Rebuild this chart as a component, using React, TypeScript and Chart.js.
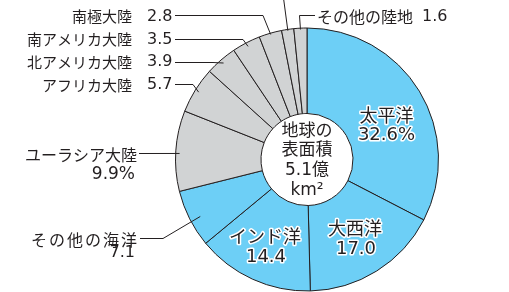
import React, { useEffect, useRef } from 'react';
import { Chart, registerables } from 'chart.js';

Chart.register(...registerables);

// ---- data ----
const categories = [
  '太平洋',
  '大西洋',
  'インド洋',
  'その他の海洋',
  'ユーラシア大陸',
  'アフリカ大陸',
  '北アメリカ大陸',
  '南アメリカ大陸',
  '南極大陸',
  'オーストラリア大陸',
  'その他の陸地',
];
const values = [32.6, 17.0, 14.4, 7.1, 9.9, 5.7, 3.9, 3.5, 2.8, 1.5, 1.6];
const isOcean = [true, true, true, true, false, false, false, false, false, false, false];
const showPercent = [true, false, false, false, true, false, false, false, false, false, false];
const centerLines = ['地球の', '表面積', '5.1億', 'km²'];

// ---- style ----
const OCEAN = '#6dcff6';
const LAND = '#d1d3d4';
const INK = '#231f20';
const JP = "'Noto Sans CJK JP', sans-serif";
const NUM = "'DejaVu Sans', 'Noto Sans CJK JP', sans-serif";

type Pt = [number, number];
type Inside = { kind: 'in'; x: number; y: number; vx: number; vy: number };
type Outside = {
  kind: 'out';
  nx: number; ny: number; nAlign: CanvasTextAlign; nSize: number; nSpacing?: number;
  vx: number; vy: number; vAlign: CanvasTextAlign; vSize: number;
  path: Pt[]; frac: number; rf: number;
};

const layouts: (Inside | Outside)[] = [
  { kind: 'in', x: 386.5, y: 115, vx: 386.5, vy: 135.5 },
  { kind: 'in', x: 355, y: 228.5, vx: 356, vy: 249.5 },
  { kind: 'in', x: 265, y: 236.5, vx: 266, vy: 257.5 },
  { kind: 'out', nx: 139, ny: 239.5, nAlign: 'right', nSize: 16, nSpacing: 2, vx: 135, vy: 253, vAlign: 'right', vSize: 16, path: [[140, 238.5], [163, 238.5]], frac: 0.45, rf: 0.92 },
  { kind: 'out', nx: 137, ny: 155, nAlign: 'right', nSize: 16, vx: 135, vy: 175, vAlign: 'right', vSize: 17, path: [[139, 153.5]], frac: 0.47, rf: 0.97 },
  { kind: 'out', nx: 132, ny: 85, nAlign: 'right', nSize: 15, vx: 147, vy: 85, vAlign: 'left', vSize: 16, path: [[175, 84.5], [193, 84.5]], frac: 0.5, rf: 0.97 },
  { kind: 'out', nx: 132, ny: 62, nAlign: 'right', nSize: 15, vx: 147, vy: 62, vAlign: 'left', vSize: 16, path: [[175, 62.5], [213, 62.5]], frac: 0.5, rf: 0.97 },
  { kind: 'out', nx: 132, ny: 39.5, nAlign: 'right', nSize: 15, vx: 147, vy: 39.5, vAlign: 'left', vSize: 16, path: [[175, 39.5], [243, 39.5]], frac: 0.5, rf: 0.97 },
  { kind: 'out', nx: 132, ny: 16.5, nAlign: 'right', nSize: 15, vx: 147, vy: 16.5, vAlign: 'left', vSize: 16, path: [[175, 15.5], [263, 15.5]], frac: 0.5, rf: 0.99 },
  { kind: 'out', nx: 318, ny: -10, nAlign: 'left', nSize: 16, vx: 470, vy: -10, vAlign: 'left', vSize: 16, path: [[283.5, -2]], frac: 0.5, rf: 0.99 },
  { kind: 'out', nx: 317, ny: 16.5, nAlign: 'left', nSize: 16, vx: 422, vy: 16.5, vAlign: 'left', vSize: 16, path: [[315, 15.5], [299.5, 15.5]], frac: 0.5, rf: 0.99 },
];

function valueText(i: number) {
  return values[i].toFixed(1) + (showPercent[i] ? '%' : '');
}

const labelPlugin = {
  id: 'surfaceLabels',
  afterDatasetsDraw(chart: any) {
    const ctx: CanvasRenderingContext2D = chart.ctx;
    const meta = chart.getDatasetMeta(0);
    ctx.save();
    ctx.textBaseline = 'middle';
    ctx.lineJoin = 'round';

    layouts.forEach((L, i) => {
      if (L.kind === 'in') {
        ctx.textAlign = 'center';
        ctx.font = `18px ${JP}`;
        ctx.strokeStyle = '#ffffff';
        ctx.lineWidth = 3;
        ctx.strokeText(categories[i], L.x, L.y);
        ctx.fillStyle = INK;
        ctx.fillText(categories[i], L.x, L.y);
        ctx.font = `18px ${NUM}`;
        ctx.strokeText(valueText(i), L.vx, L.vy);
        ctx.fillText(valueText(i), L.vx, L.vy);
        return;
      }
      // leader line
      const arc = meta.data[i];
      const p = arc.getProps(['x', 'y', 'startAngle', 'endAngle', 'outerRadius'], true);
      const a = p.startAngle + (p.endAngle - p.startAngle) * L.frac;
      const ex = p.x + Math.cos(a) * p.outerRadius * L.rf;
      const ey = p.y + Math.sin(a) * p.outerRadius * L.rf;
      ctx.strokeStyle = INK;
      ctx.lineWidth = 1;
      ctx.beginPath();
      ctx.moveTo(L.path[0][0], L.path[0][1]);
      for (let k = 1; k < L.path.length; k++) ctx.lineTo(L.path[k][0], L.path[k][1]);
      ctx.lineTo(ex, ey);
      ctx.stroke();

      ctx.fillStyle = INK;
      ctx.font = `${L.nSize}px ${JP}`;
      ctx.textAlign = L.nAlign;
      (ctx as any).letterSpacing = L.nSpacing ? `${L.nSpacing}px` : '0px';
      ctx.fillText(categories[i], L.nx, L.ny);
      (ctx as any).letterSpacing = '0px';
      ctx.font = `${L.vSize}px ${NUM}`;
      ctx.textAlign = L.vAlign;
      ctx.fillText(valueText(i), L.vx, L.vy);
    });

    // center text
    const c = meta.data[0].getProps(['x', 'y'], true);
    ctx.fillStyle = INK;
    ctx.textAlign = 'center';
    ctx.font = `17px ${NUM}`;
    const offs = [-28, -8.5, 11, 31];
    centerLines.forEach((t, k) => ctx.fillText(t, c.x, c.y + offs[k]));
    ctx.restore();
  },
};

export default function App() {
  const ref = useRef<HTMLCanvasElement | null>(null);
  useEffect(() => {
    if (!ref.current) return;
    const chart = new Chart(ref.current, {
      type: 'doughnut',
      data: {
        labels: categories,
        datasets: [
          {
            data: values,
            backgroundColor: isOcean.map((o) => (o ? OCEAN : LAND)),
            borderColor: INK,
            borderWidth: 1,
            hoverOffset: 0,
          },
        ],
      },
      options: {
        responsive: false,
        animation: false,
        devicePixelRatio: 1,
        cutout: '35%',
        layout: { padding: { left: 175, right: 70, top: 27, bottom: 0 } },
        plugins: { legend: { display: false }, tooltip: { enabled: false } },
        events: [],
      },
      plugins: [labelPlugin],
    });
    return () => chart.destroy();
  }, []);
  return (
    <div style={{ position: 'absolute', left: 0, top: 0, width: 509, height: 292, background: '#fff' }}>
      <canvas ref={ref} width={509} height={292} style={{ display: 'block' }} />
    </div>
  );
}
